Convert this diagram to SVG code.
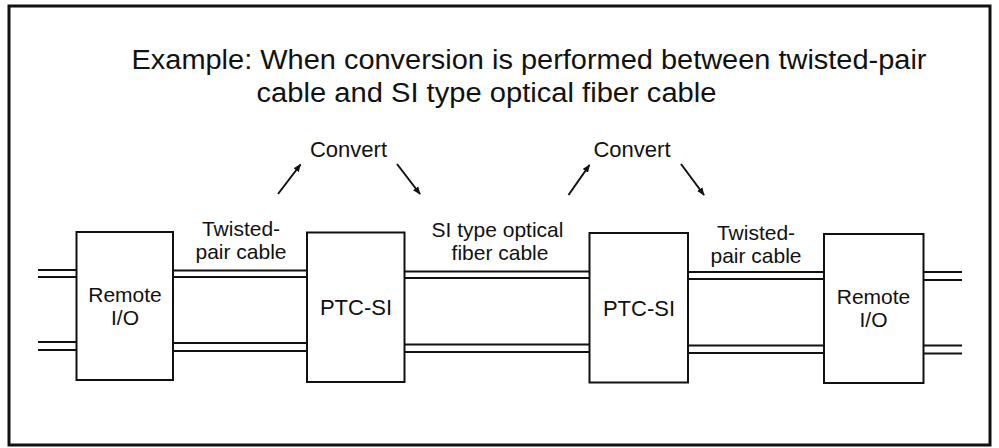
<svg xmlns="http://www.w3.org/2000/svg" width="999" height="448" viewBox="0 0 999 448">
<style>
text{font-family:"Liberation Sans",Arial,Helvetica,sans-serif;fill:#111;}
.lbl{font-size:21px;text-anchor:middle;}
.big{font-size:22px;text-anchor:middle;}
.ttl{font-size:27px;}
.box{fill:#fff;stroke:#111;stroke-width:2;}
.cab line{stroke:#111;stroke-width:2;}
.arr{stroke:#111;stroke-width:2;marker-end:url(#ah);}
</style>
<defs>
<marker id="ah" viewBox="0 0 10 10" refX="9" refY="5" markerWidth="4" markerHeight="4" orient="auto" markerUnits="strokeWidth">
<path d="M0,1 L10,5 L0,9 z" fill="#111"/>
</marker>
</defs>
<rect x="9" y="6" width="981" height="439" fill="#fff" stroke="#111" stroke-width="3"/>
<g id="title">
<text class="ttl" x="131.5" y="69" textLength="795" lengthAdjust="spacingAndGlyphs">Example: When conversion is performed between twisted-pair</text>
<text class="ttl" x="256.5" y="102" textLength="460" lengthAdjust="spacingAndGlyphs">cable and SI type optical fiber cable</text>
</g>
<g id="connectors">
<g class="cab">
<line x1="38" y1="270" x2="76.5" y2="270"/>
<line x1="38" y1="277" x2="76.5" y2="277"/>
<line x1="173" y1="270.5" x2="307" y2="270.5"/>
<line x1="173" y1="277" x2="307" y2="277"/>
<line x1="404.5" y1="271.5" x2="589.5" y2="271.5"/>
<line x1="404.5" y1="278" x2="589.5" y2="278"/>
<line x1="688" y1="272" x2="824" y2="272"/>
<line x1="688" y1="279" x2="824" y2="279"/>
<line x1="923.5" y1="272" x2="962" y2="272"/>
<line x1="923.5" y1="280" x2="962" y2="280"/>
<line x1="38" y1="342" x2="76.5" y2="342"/>
<line x1="38" y1="350" x2="76.5" y2="350"/>
<line x1="173" y1="343" x2="307" y2="343"/>
<line x1="173" y1="351" x2="307" y2="351"/>
<line x1="404.5" y1="344.5" x2="589.5" y2="344.5"/>
<line x1="404.5" y1="352" x2="589.5" y2="352"/>
<line x1="688" y1="345.5" x2="824" y2="345.5"/>
<line x1="688" y1="353" x2="824" y2="353"/>
<line x1="923.5" y1="345.5" x2="962" y2="345.5"/>
<line x1="923.5" y1="353.5" x2="962" y2="353.5"/>
</g>
<line class="arr" x1="278" y1="194" x2="300.5" y2="164.5"/>
<line class="arr" x1="397" y1="164" x2="420" y2="194"/>
<line class="arr" x1="568.5" y1="195" x2="589.5" y2="165"/>
<line class="arr" x1="681" y1="164" x2="704" y2="195"/>
</g>
<g id="convert1"><text class="big" x="348.5" y="157">Convert</text></g>
<g id="convert2"><text class="big" x="632" y="156.5">Convert</text></g>
<g id="label-tp1"><text class="lbl" x="241" y="236">Twisted-</text><text class="lbl" x="241" y="259">pair cable</text></g>
<g id="label-si"><text class="lbl" x="497.5" y="237">SI type optical</text><text class="lbl" x="500" y="260">fiber cable</text></g>
<g id="label-tp2"><text class="lbl" x="756" y="240">Twisted-</text><text class="lbl" x="756" y="263">pair cable</text></g>
<g id="remote1"><rect class="box" x="76.5" y="232" width="96.5" height="148"/><text class="lbl" x="125" y="302">Remote</text><text class="lbl" x="125" y="325">I/O</text></g>
<g id="ptc1"><rect class="box" x="307" y="232.5" width="97.5" height="149.5"/><text class="big" x="356" y="315">PTC-SI</text></g>
<g id="ptc2"><rect class="box" x="589.5" y="233" width="98.5" height="149.5"/><text class="big" x="639" y="316">PTC-SI</text></g>
<g id="remote2"><rect class="box" x="824" y="234" width="99.5" height="149"/><text class="lbl" x="873.5" y="304">Remote</text><text class="lbl" x="873.5" y="327">I/O</text></g>
</svg>
